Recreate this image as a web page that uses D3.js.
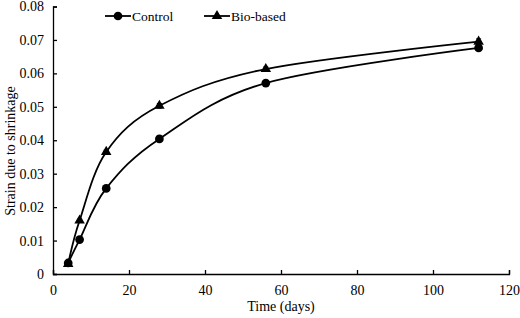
<!DOCTYPE html>
<html><head><meta charset="utf-8">
<script src="https://cdn.jsdelivr.net/npm/d3@7"></script>
<style>body{margin:0;background:#fff}svg{display:block}</style>
</head><body><svg id="c" width="520" height="318"></svg>
<script>
const days = [4, 7, 14, 28, 56, 112];
const controlVals = [0.0033, 0.0103, 0.0256, 0.0404, 0.0571, 0.0676];
const controlErr = [0.0004, 0.0005, 0.0004, 0.0008, 0.0005, 0.0007];
const bioVals = [0.0030, 0.0160, 0.0365, 0.0503, 0.0613, 0.0695];
const bioErr = [0.0003, 0.0004, 0.0005, 0.0007, 0.0006, 0.0008];
const xTicks = [0, 20, 40, 60, 80, 100, 120];
const yTicks = [0, 0.01, 0.02, 0.03, 0.04, 0.05, 0.06, 0.07, 0.08];
const seriesNames = ["Control", "Bio-based"];

const FONT = "Liberation Serif";
const svg = d3.select("#c");
const x = d3.scaleLinear().domain([0, 120]).range([53, 509]);
const y = d3.scaleLinear().domain([0, 0.08]).range([274, 6.5]);

const xAxis = d3.axisBottom(x).tickValues(xTicks).tickSize(-4).tickPadding(11).tickFormat(d3.format("d"));
const gx = svg.append("g").attr("transform", "translate(0,274)").call(xAxis);
const yAxis = d3.axisLeft(y).tickValues(yTicks).tickSize(-4).tickPadding(9).tickFormat(d => d === 0 ? "0" : d3.format(".2f")(d));
const gy = svg.append("g").attr("transform", "translate(53,0)").call(yAxis);
[gx, gy].forEach(g => {
  g.attr("font-family", FONT).attr("font-size", 14);
  g.select(".domain").attr("stroke", "#000").attr("stroke-width", 1.3);
  g.selectAll(".tick line").attr("stroke", "#000").attr("stroke-width", 1.3);
  g.selectAll("text").attr("fill", "#000");
});

svg.append("text").attr("x", 281).attr("y", 311).attr("text-anchor", "middle").attr("font-size", 14).attr("font-family", FONT).text("Time (days)");
svg.append("text").attr("transform", "translate(15,151) rotate(-90)").attr("text-anchor", "middle").attr("font-size", 14).attr("font-family", FONT).text("Strain due to shrinkage");

const line = d3.line().x(d => x(d[0])).y(d => y(d[1])).curve(d3.curveCardinal.tension(0));
const series = [
  {vals: controlVals, err: controlErr, sym: d3.symbolCircle, size: 60},
  {vals: bioVals, err: bioErr, sym: d3.symbolTriangle, size: 48}
];
series.forEach(s => {
  const pts = days.map((d, i) => [d, s.vals[i], s.err[i]]);
  svg.append("path").datum(pts).attr("d", line).attr("fill", "none").attr("stroke", "#000").attr("stroke-width", 1.8);
  const g = svg.append("g");
  pts.forEach(p => {
    g.append("line").attr("x1", x(p[0])).attr("x2", x(p[0])).attr("y1", y(p[1] - p[2])).attr("y2", y(p[1] + p[2])).attr("stroke", "#000").attr("stroke-width", 1.2);
    g.append("line").attr("x1", x(p[0]) - 2.5).attr("x2", x(p[0]) + 2.5).attr("y1", y(p[1] + p[2])).attr("y2", y(p[1] + p[2])).attr("stroke", "#000");
    g.append("line").attr("x1", x(p[0]) - 2.5).attr("x2", x(p[0]) + 2.5).attr("y1", y(p[1] - p[2])).attr("y2", y(p[1] - p[2])).attr("stroke", "#000");
    g.append("path").attr("d", d3.symbol().type(s.sym).size(s.size)()).attr("transform", `translate(${x(p[0])},${y(p[1])})`).attr("fill", "#000");
  });
});

// legend
const leg = [{x0: 105, sym: d3.symbolCircle, size: 60, name: seriesNames[0]}, {x0: 204, sym: d3.symbolTriangle, size: 48, name: seriesNames[1]}];
leg.forEach(l => {
  svg.append("line").attr("x1", l.x0).attr("x2", l.x0 + 26).attr("y1", 16).attr("y2", 16).attr("stroke", "#000").attr("stroke-width", 1.8);
  svg.append("path").attr("d", d3.symbol().type(l.sym).size(l.size)()).attr("transform", `translate(${l.x0 + 13},16)`).attr("fill", "#000");
  svg.append("text").attr("x", l.x0 + 27).attr("y", 20.5).attr("font-size", 13.5).attr("font-family", FONT).text(l.name);
});
</script></body></html>
